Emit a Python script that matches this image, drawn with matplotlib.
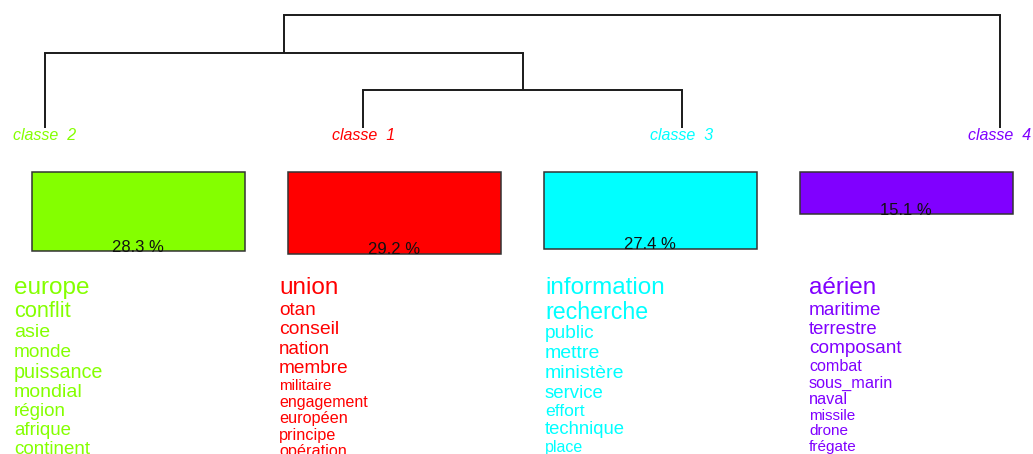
import numpy as np
import matplotlib
matplotlib.use("Agg")
import matplotlib.pyplot as plt
from matplotlib.patches import Rectangle

plt.rcParams['font.family'] = ['Liberation Sans', 'DejaVu Sans']

# classes in dendrogram (leaf) order
classes = ["classe  2", "classe  1", "classe  3", "classe  4"]
percents = [28.3, 29.2, 27.4, 15.1]
colors = ["#84ff00", "#ff0000", "#00ffff", "#8000ff"]

# merges: (left node, right node, height); leaves are 0..3, new nodes 4, 5, 6
merges = [(1, 2, 1.0), (0, 4, 2.0), (5, 3, 3.0)]

# specific vocabulary of each class, with its weight (font size)
words = [
    ["europe", "conflit", "asie", "monde", "puissance", "mondial", "région",
     "afrique", "continent"],
    ["union", "otan", "conseil", "nation", "membre", "militaire", "engagement",
     "européen", "principe", "opération"],
    ["information", "recherche", "public", "mettre", "ministère", "service",
     "effort", "technique", "place"],
    ["aérien", "maritime", "terrestre", "composant", "combat", "sous_marin",
     "naval", "missile", "drone", "frégate"],
]
weights = [
    [17.5, 15.7, 14.0, 13.7, 14.2, 14.0, 13.5, 13.4, 13.5],
    [17.5, 13.7, 13.9, 13.5, 13.7, 11.0, 11.5, 11.7, 11.7, 11.7],
    [17.5, 16.7, 13.8, 14.0, 14.0, 13.4, 12.6, 13.3, 11.5],
    [17.5, 13.7, 13.3, 13.7, 11.6, 11.7, 11.7, 11.0, 11.0, 11.0],
]

W, H = 1033, 454
fig = plt.figure(figsize=(W / 100, H / 100), dpi=100)
ax = fig.add_axes([0, 0, 1, 1])
ax.set_xlim(0, W)
ax.set_ylim(H, 0)
ax.axis("off")

# dendrogram
leaf_x0, leaf_x1 = 45, 1000
leaf_y = 128
unit = 37.7
nx = {i: leaf_x0 + i * (leaf_x1 - leaf_x0) / 3 for i in range(4)}
ny = {i: leaf_y for i in range(4)}
lc = "#1a1a1a"
for k, (a, b, h) in enumerate(merges):
    y = leaf_y - h * unit
    ax.plot([nx[a], nx[a]], [ny[a], y], c=lc, lw=1.4, solid_capstyle="butt")
    ax.plot([nx[b], nx[b]], [ny[b], y], c=lc, lw=1.4, solid_capstyle="butt")
    ax.plot([nx[a], nx[b]], [y, y], c=lc, lw=1.4, solid_capstyle="projecting")
    nx[4 + k] = (nx[a] + nx[b]) / 2
    ny[4 + k] = y

for i, name in enumerate(classes):
    ax.text(nx[i], 135, name, color=colors[i], style="italic", fontsize=11.5,
            ha="center", va="center")

# class size boxes
box_w = 213
box_top = 172
for i, p in enumerate(percents):
    cx = 138 + i * 256
    bh = 2.8 * p
    ax.add_patch(Rectangle((cx - box_w / 2, box_top), box_w, bh,
                           facecolor=colors[i], edgecolor="#333333", lw=1.1))
    ax.text(cx, box_top + bh + 0.5, "%.1f %%" % p, ha="center", va="baseline",
            fontsize=12, color="#111111")

# word lists
col_x = [14, 279, 545, 809]
for i in range(4):
    y = 288
    for j, (w, s) in enumerate(zip(words[i], weights[i])):
        if j > 0:
            y += 1.42 * (s + weights[i][j - 1]) / 2
        ax.text(col_x[i], y, w, color=colors[i], fontsize=s,
                ha="left", va="center")

fig.savefig("out.png", dpi=100)
